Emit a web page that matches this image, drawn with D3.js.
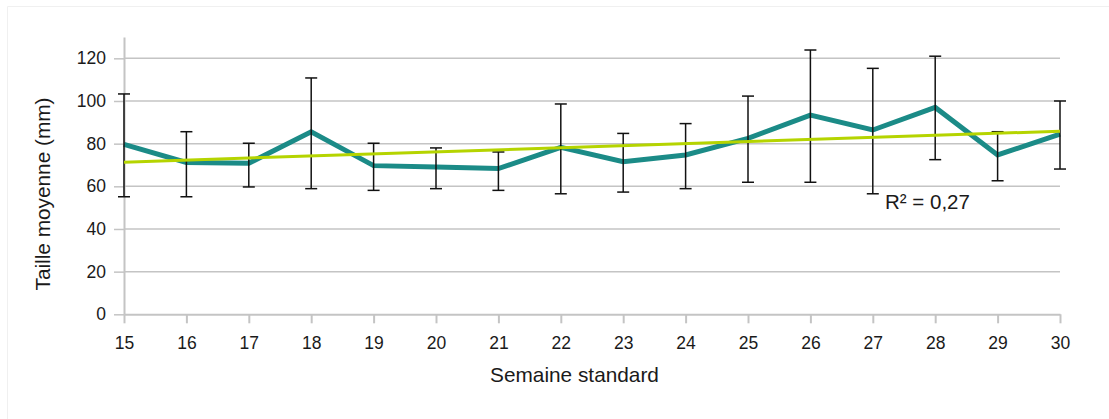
<!DOCTYPE html>
<html>
<head>
<meta charset="utf-8">
<script src="https://cdn.jsdelivr.net/npm/d3@7"></script>
<style>
  html, body { margin: 0; padding: 0; background: #fff; }
  svg { display: block; font-family: "Liberation Sans", Arial, sans-serif; }
</style>
</head>
<body>
<svg id="chart" width="1109" height="419"></svg>
<script>
// Semaines standard et taille moyenne (mm) avec bornes des barres d'erreur
const weeks = [15, 16, 17, 18, 19, 20, 21, 22, 23, 24, 25, 26, 27, 28, 29, 30];
const meanSize = [79.7, 71.2, 70.8, 85.6, 69.7, 69.0, 68.3, 78.3, 71.5, 74.7, 82.5, 93.4, 86.4, 97.0, 74.7, 84.5];
const errHigh = [103.3, 85.6, 80.2, 110.8, 80.2, 78.0, 76.1, 98.6, 84.8, 89.4, 102.3, 123.9, 115.3, 121.0, 85.6, 100.0];
const errLow = [55.1, 55.1, 59.7, 58.9, 58.1, 58.9, 58.1, 56.5, 57.3, 58.9, 61.9, 61.9, 56.5, 72.5, 62.6, 68.1];
const yTicks = [0, 20, 40, 60, 80, 100, 120];

const svg = d3.select("#chart");
const plotLeft = 124, plotRight = 1060, plotTop = 37, plotBottom = 314.3;
const textColor = "#1a1a1a", gridColor = "#c4c4c4";

const x = d3.scaleLinear().domain([15, 30]).range([plotLeft, plotRight]);
const y = d3.scaleLinear().domain([0, 130]).range([plotBottom, plotTop]);

// faint frame
svg.append("path")
  .attr("d", `M7.5,419 V6.5 H1109`)
  .attr("fill", "none").attr("stroke", "#f0f0f0").attr("stroke-width", 1);

// horizontal gridlines
svg.append("g").selectAll("line").data(yTicks.filter(d => d > 0)).join("line")
  .attr("x1", plotLeft).attr("x2", plotRight)
  .attr("y1", d => y(d)).attr("y2", d => y(d))
  .attr("stroke", gridColor).attr("stroke-width", 1.5);

// y axis
const yAxis = svg.append("g").attr("transform", `translate(${plotLeft},0)`)
  .call(d3.axisLeft(y).tickValues(yTicks).tickSize(10).tickPadding(8).tickSizeOuter(0));
yAxis.select(".domain").attr("stroke", gridColor).attr("stroke-width", 2);
yAxis.selectAll(".tick line").attr("stroke", gridColor).attr("stroke-width", 1.5);
yAxis.selectAll(".tick text").attr("font-size", 17.5).attr("fill", textColor)
  .attr("font-family", "Liberation Sans, Arial, sans-serif");

// x axis
const xAxis = svg.append("g").attr("transform", `translate(0,${plotBottom})`)
  .call(d3.axisBottom(x).tickValues(weeks).tickFormat(d3.format("d")).tickSize(9).tickPadding(13).tickSizeOuter(0));
xAxis.select(".domain").attr("stroke", gridColor).attr("stroke-width", 2);
xAxis.selectAll(".tick line").attr("stroke", gridColor).attr("stroke-width", 2);
xAxis.selectAll(".tick text").attr("font-size", 17.5).attr("fill", textColor)
  .attr("font-family", "Liberation Sans, Arial, sans-serif");

// axis titles
svg.append("text")
  .attr("x", 574.5).attr("y", 382)
  .attr("text-anchor", "middle").attr("font-size", 20.8).attr("fill", textColor)
  .text("Semaine standard");
svg.append("text")
  .attr("transform", `translate(50,194) rotate(-90)`)
  .attr("text-anchor", "middle").attr("font-size", 20.8).attr("fill", textColor)
  .text("Taille moyenne (mm)");

// mean line
const data = weeks.map((w, i) => ({ w, m: meanSize[i], hi: errHigh[i], lo: errLow[i] }));
svg.append("path")
  .datum(data)
  .attr("d", d3.line().x(d => x(d.w)).y(d => y(d.m)))
  .attr("fill", "none").attr("stroke", "#1b8b87").attr("stroke-width", 5)
  .attr("stroke-linejoin", "miter");

// error bars
const eb = svg.append("g").attr("stroke", "#111").attr("stroke-width", 1.5);
const cap = 6;
data.forEach(d => {
  eb.append("line").attr("x1", x(d.w)).attr("x2", x(d.w)).attr("y1", y(d.hi)).attr("y2", y(d.lo));
  eb.append("line").attr("x1", x(d.w) - cap).attr("x2", x(d.w) + cap).attr("y1", y(d.hi)).attr("y2", y(d.hi));
  eb.append("line").attr("x1", x(d.w) - cap).attr("x2", x(d.w) + cap).attr("y1", y(d.lo)).attr("y2", y(d.lo));
});

// linear trend (least squares) and R²
const mx = d3.mean(weeks), my = d3.mean(meanSize);
let sxy = 0, sxx = 0, syy = 0;
weeks.forEach((w, i) => {
  sxy += (w - mx) * (meanSize[i] - my);
  sxx += (w - mx) ** 2;
  syy += (meanSize[i] - my) ** 2;
});
const slope = sxy / sxx, intercept = my - slope * mx;
const r2 = (sxy * sxy) / (sxx * syy);
svg.append("line")
  .attr("x1", x(15)).attr("y1", y(intercept + slope * 15))
  .attr("x2", x(30)).attr("y2", y(intercept + slope * 30))
  .attr("stroke", "#b5d400").attr("stroke-width", 3);

svg.append("text")
  .attr("x", 885).attr("y", 209)
  .attr("font-size", 20.5).attr("fill", textColor)
  .text("R² = " + r2.toFixed(2).replace(".", ","));
</script>
</body>
</html>
